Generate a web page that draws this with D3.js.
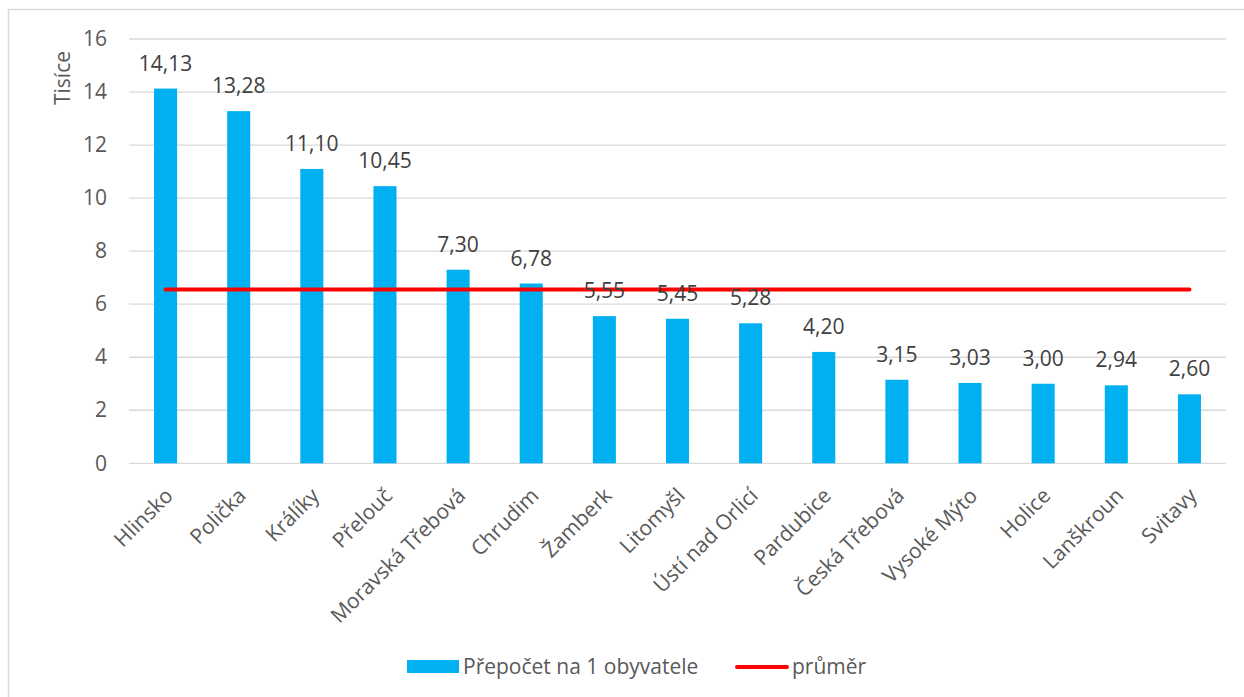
<!DOCTYPE html>
<html>
<head>
<meta charset="utf-8">
<script src="https://cdn.jsdelivr.net/npm/d3@7"></script>
<style>
  html, body { margin: 0; padding: 0; background: #fff; }
  svg { display: block; font-family: "Open Sans", sans-serif; }
</style>
</head>
<body>
<svg id="chart" width="1244" height="697"></svg>
<script>
const categories = ["Hlinsko", "Polička", "Králíky", "Přelouč", "Moravská Třebová", "Chrudim", "Žamberk", "Litomyšl", "Ústí nad Orlicí", "Pardubice", "Česká Třebová", "Vysoké Mýto", "Holice", "Lanškroun", "Svitavy"];
const perCapita = [14.13, 13.28, 11.10, 10.45, 7.30, 6.78, 5.55, 5.45, 5.28, 4.20, 3.15, 3.03, 3.00, 2.94, 2.60];
const average = [6.55, 6.55, 6.55, 6.55, 6.55, 6.55, 6.55, 6.55, 6.55, 6.55, 6.55, 6.55, 6.55, 6.55, 6.55];
const yTicks = [0, 2, 4, 6, 8, 10, 12, 14, 16];
const seriesNames = ["Přepočet na 1 obyvatele", "průměr"];
const axisTitle = "Tisíce";

const FS = 21;
const svg = d3.select("#chart");
const margin = { left: 129, right: 1226, top: 39, bottom: 463.3 };

// chart border
svg.append("rect").attr("x", 8.5).attr("y", 9.5).attr("width", 1300).attr("height", 800)
  .attr("fill", "none").attr("stroke", "#d9d9d9").attr("stroke-width", 1.5);

const x = d3.scaleBand().domain(categories).range([margin.left, margin.right]).paddingInner(0).paddingOuter(0);
const y = d3.scaleLinear().domain([0, 16]).range([margin.bottom, margin.top]);
const barW = x.bandwidth() * 0.315;

// gridlines
svg.append("g").selectAll("line").data(yTicks).join("line")
  .attr("x1", margin.left).attr("x2", margin.right)
  .attr("y1", d => y(d)).attr("y2", d => y(d))
  .attr("stroke", "#d9d9d9").attr("stroke-width", 1.3);

// y axis labels
const yAxis = d3.axisLeft(y).tickValues(yTicks).tickSize(0).tickPadding(22).tickFormat(d3.format("d"));
const gy = svg.append("g").attr("transform", `translate(${margin.left},0)`).call(yAxis);
gy.select(".domain").remove();
gy.attr("font-size", FS).attr("font-family", "Open Sans, sans-serif");
gy.selectAll("text").attr("fill", "#595959");

// axis title
svg.append("text").attr("transform", "translate(70,78) rotate(-90)")
  .attr("text-anchor", "middle").attr("font-size", FS).attr("fill", "#595959").text(axisTitle);

// bars
svg.append("g").selectAll("rect").data(perCapita).join("rect")
  .attr("x", (d, i) => x(categories[i]) + x.bandwidth() / 2 - barW / 2)
  .attr("width", barW)
  .attr("y", d => y(d))
  .attr("height", d => y(0) - y(d))
  .attr("fill", "#00b0f0");

// x axis labels
const xAxis = d3.axisBottom(x).tickSize(0).tickPadding(0);
const gx = svg.append("g").attr("transform", `translate(0,${margin.bottom})`).call(xAxis);
gx.select(".domain").remove();
gx.attr("font-size", FS).attr("font-family", "Open Sans, sans-serif");
gx.selectAll("text")
  .attr("fill", "#595959")
  .attr("text-anchor", "end")
  .attr("dy", null).attr("y", null)
  .attr("transform", "translate(3,28) rotate(-45)")
  .attr("dominant-baseline", "central");

// average line
const line = d3.line().x((d, i) => x(categories[i]) + x.bandwidth() / 2).y(d => y(d));
svg.append("path").datum(average).attr("d", line)
  .attr("fill", "none").attr("stroke", "#ff0000").attr("stroke-width", 4).attr("stroke-linecap", "round");

// data labels
const fmt = v => d3.format(".2f")(v).replace(".", ",");
svg.append("g").selectAll("text").data(perCapita).join("text")
  .attr("x", (d, i) => x(categories[i]) + x.bandwidth() / 2)
  .attr("y", d => y(d) - 18)
  .attr("text-anchor", "middle").attr("font-size", FS).attr("fill", "#404040")
  .text(d => fmt(d));

// legend
const lg = svg.append("g");
lg.append("rect").attr("x", 407).attr("y", 660).attr("width", 52).attr("height", 13).attr("fill", "#00b0f0");
lg.append("text").attr("x", 463).attr("y", 674).attr("font-size", FS).attr("fill", "#595959").text(seriesNames[0]);
lg.append("line").attr("x1", 737).attr("x2", 787).attr("y1", 667).attr("y2", 667)
  .attr("stroke", "#ff0000").attr("stroke-width", 4).attr("stroke-linecap", "round");
lg.append("text").attr("x", 792).attr("y", 674).attr("font-size", FS).attr("fill", "#595959").text(seriesNames[1]);
</script>
</body>
</html>
